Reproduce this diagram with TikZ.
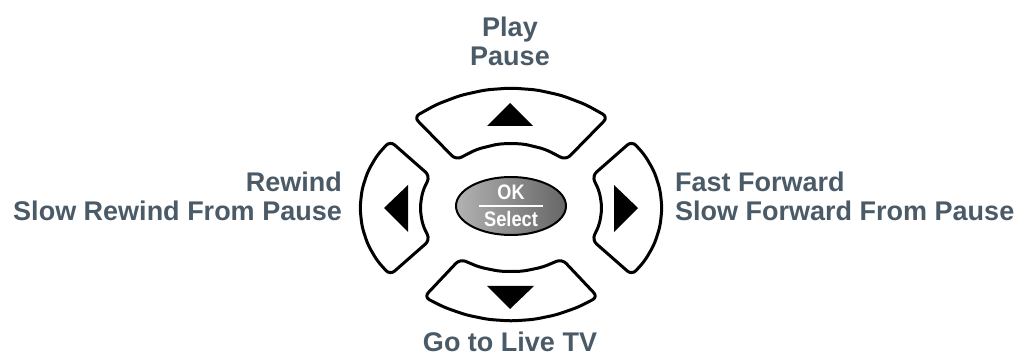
\documentclass[tikz,border=0pt]{standalone}
\usepackage{fontspec}
\setmainfont{Liberation Sans}
\definecolor{txt}{HTML}{4B5A67}
\definecolor{ellL}{HTML}{B2B2B2}
\definecolor{ellR}{HTML}{666666}
\tikzset{
  btn/.style={draw=black, line width=3pt, rounded corners=6pt, fill=white, line join=round},
  tri/.style={fill=black},
  lbl/.style={text=txt, font=\fontsize{27}{30}\selectfont\bfseries, inner sep=0pt},
  oktxt/.style={text=white, font=\fontsize{21}{24}\selectfont\bfseries, inner sep=0pt},
}
\begin{document}
\begin{tikzpicture}[x=1pt,y=-1pt]
\useasboundingbox (0,0) rectangle (1021,358);
% top button
\draw[btn] plot[domain=-33.3:33.3,samples=9] ({511+176.7*sin(\x)},{264.7-176.7*cos(\x)})
  -- plot[domain=34.3:-34.3,samples=6] ({511+97.5*sin(\x)},{240.5-97.5*cos(\x)}) -- cycle;
% bottom button
\draw[btn] plot[domain=-30.8:30.8,samples=9] ({511+169.7*sin(\x)},{151.3+169.7*cos(\x)})
  -- plot[domain=28.6:-28.6,samples=6] ({511+106.5*sin(\x)},{165.5+106.5*cos(\x)}) -- cycle;
% left button
\draw[btn] plot[domain=-48.3:48.3,samples=9] ({449.8-89.8*cos(\x)},{208+89.8*sin(\x)})
  -- plot[domain=34.7:-34.7,samples=5] ({476.2-56.2*cos(\x)},{208+56.2*sin(\x)}) -- cycle;
% right button
\draw[btn] plot[domain=-48.3:48.3,samples=9] ({572.2+89.8*cos(\x)},{208+89.8*sin(\x)})
  -- plot[domain=34.7:-34.7,samples=5] ({545.8+56.2*cos(\x)},{208+56.2*sin(\x)}) -- cycle;
% arrows
\fill[tri] (487,126) -- (510,103) -- (533,126) -- cycle;
\fill[tri] (487,286) -- (534,286) -- (510,309) -- cycle;
\fill[tri] (408,185) -- (384,208) -- (408,232) -- cycle;
\fill[tri] (614,185) -- (638,208) -- (614,232) -- cycle;
% OK select
\draw[line width=2pt, left color=ellL, right color=ellR] (511,206) ellipse [x radius=55, y radius=29];
\coordinate (l1) at (479,206);
\coordinate (l2) at (543,206);
\draw[white, line width=2pt] (l1) -- (l2);
\node[oktxt, anchor=base] (ok) at (511,200) {\scalebox{0.86}[1]{OK}};
\node[oktxt, anchor=base] (sel) at (511,227) {\scalebox{0.87}[1]{Select}};
% labels
\node[lbl, anchor=base] (play) at (510,37) {Play};
\node[lbl, anchor=base] (pause) at (510,66) {Pause};
\node[lbl, anchor=base east] (rew) at (342,192) {Rewind};
\node[lbl, anchor=base east] (srew) at (342,221) {Slow Rewind From Pause};
\node[lbl, anchor=base west] (ff) at (675,192) {Fast Forward};
\node[lbl, anchor=base west] (sff) at (675,221) {Slow Forward From Pause};
\node[lbl, anchor=base] (live) at (510,352) {Go to Live TV};
\end{tikzpicture}
\end{document}
